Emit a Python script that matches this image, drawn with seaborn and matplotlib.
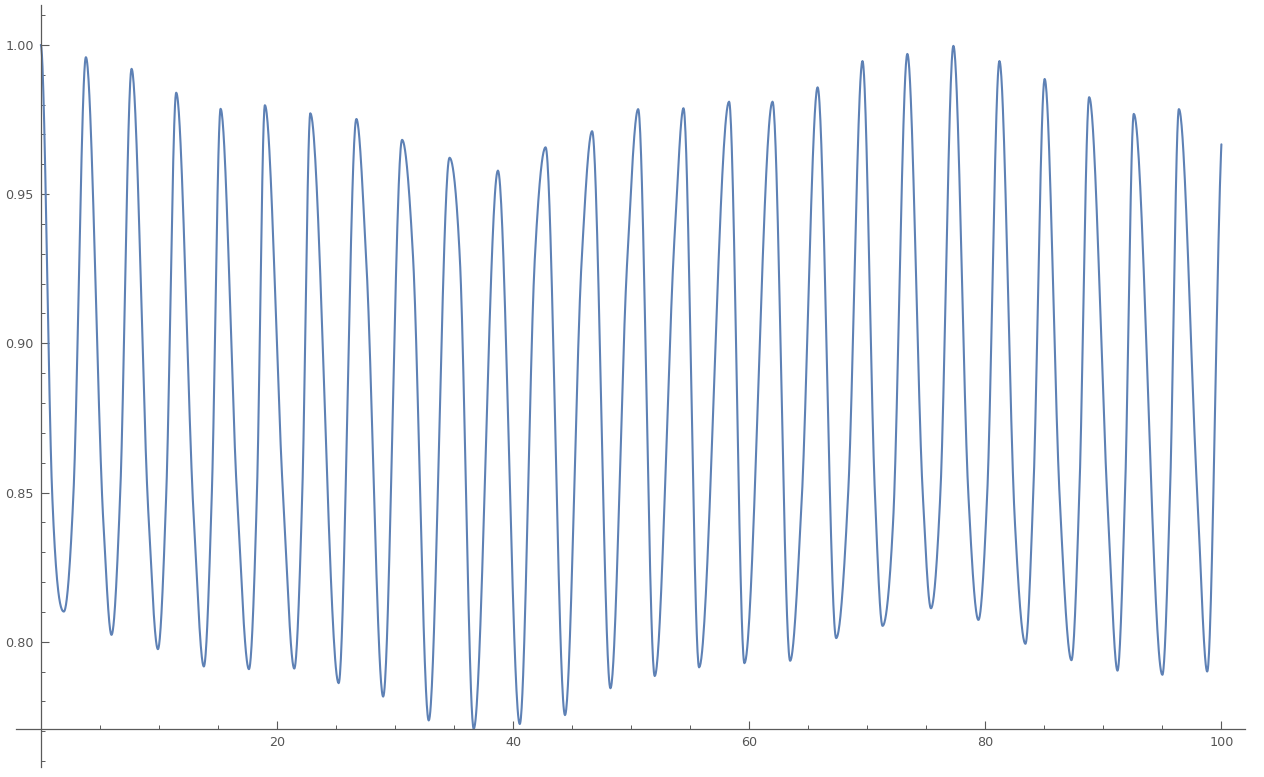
import numpy as np
import pandas as pd
import matplotlib
matplotlib.use("Agg")
import matplotlib.pyplot as plt
import seaborn as sns
from matplotlib.ticker import FixedLocator, FormatStrFormatter

# ---- values ----
start_x, start_y = 0.0, 1.000
end_x, end_y = 100.0, 0.9667

peak_x = [3.82, 7.69, 11.47, 15.23, 18.98, 22.83, 26.73, 30.60, 34.62, 38.72,
          42.76, 46.70, 50.60, 54.44, 58.30, 61.98, 65.80, 69.60, 73.40, 77.30,
          81.20, 85.03, 88.80, 92.58, 96.40]
peak_y = [0.9959, 0.9920, 0.9840, 0.9786, 0.9798, 0.9771, 0.9752, 0.9682, 0.9622, 0.9579,
          0.9657, 0.9711, 0.9785, 0.9788, 0.9810, 0.9810, 0.9858, 0.9946, 0.9970, 0.9997,
          0.9946, 0.9886, 0.9825, 0.9769, 0.9785]

trough_x = [1.95, 5.99, 9.92, 13.81, 17.63, 21.47, 25.23, 29.00, 32.86, 36.67,
            40.57, 44.40, 48.25, 52.00, 55.76, 59.60, 63.47, 67.37, 71.30, 75.40,
            79.42, 83.40, 87.30, 91.20, 95.00, 98.80]
trough_y = [0.8101, 0.8023, 0.7975, 0.7917, 0.7908, 0.7910, 0.7861, 0.7816, 0.7736, 0.7708,
            0.7724, 0.7754, 0.7844, 0.7885, 0.7914, 0.7928, 0.7936, 0.8012, 0.8053, 0.8112,
            0.8073, 0.7993, 0.7938, 0.7903, 0.7889, 0.7900]

shoulder_x = [5.30, 9.10, 12.95, 27.58, 31.53, 35.50, 41.84, 45.80, 49.65,
              53.70, 64.44, 68.40, 72.20, 82.50, 86.30, 90.40]
shoulder_y = [0.8400, 0.8440, 0.8420, 0.9268, 0.9290, 0.9280, 0.9280, 0.9268, 0.9260,
              0.9370, 0.8464, 0.8509, 0.8408, 0.8408, 0.8486, 0.8430]

# where the curve crosses the 0.85 level next to the shallower troughs
cross_x = [0.96, 2.77, 6.73, 10.63, 14.49, 16.61, 18.31, 20.51, 22.15,
           70.65, 74.70, 76.20, 78.56, 80.17, 84.07, 87.97, 91.84, 95.65, 97.95]
cross_y = [0.85] * len(cross_x)

x_major = [20, 40, 60, 80, 100]
y_major = [0.80, 0.85, 0.90, 0.95, 1.00]

# ---- smooth rendering of the read key points (monotone cubic) ----
kx = np.array([start_x] + peak_x + trough_x + shoulder_x + cross_x + [end_x])
ky = np.array([start_y] + peak_y + trough_y + shoulder_y + cross_y + [end_y])
order = np.argsort(kx)
kx, ky = kx[order], ky[order]

def smooth_curve(xk, yk, per_seg=40):
    h = np.diff(xk)
    d = np.diff(yk) / h
    n = len(xk)
    m = np.zeros(n)
    for k in range(1, n - 1):
        if d[k - 1] * d[k] > 0:
            s = (h[k] * d[k - 1] + h[k - 1] * d[k]) / (h[k - 1] + h[k])
            lim = 3 * min(abs(d[k - 1]), abs(d[k]))
            m[k] = np.sign(s) * min(abs(s), lim)
    m[0] = 0.0
    m[-1] = 0.6 * d[-1]
    xs, ys = [], []
    for k in range(n - 1):
        t = np.linspace(0, 1, per_seg, endpoint=(k == n - 2))
        h00 = 2 * t**3 - 3 * t**2 + 1
        h10 = t**3 - 2 * t**2 + t
        h01 = -2 * t**3 + 3 * t**2
        h11 = t**3 - t**2
        xs.append(xk[k] + t * h[k])
        ys.append(h00 * yk[k] + h10 * h[k] * m[k] + h01 * yk[k + 1] + h11 * h[k] * m[k + 1])
    return np.concatenate(xs), np.concatenate(ys)

cx, cy = smooth_curve(kx, ky)
df = pd.DataFrame({"x": cx, "y": cy})

# ---- figure ----
sns.set_style("white")
plt.rcParams["font.family"] = ["DejaVu Sans"]

W, H = 1264, 777
fig = plt.figure(figsize=(W / 100, H / 100), dpi=100)
ax = fig.add_axes([16 / W, 10 / H, (1245 - 16) / W, (767 - 5) / H])

sns.lineplot(data=df, x="x", y="y", ax=ax, color=(0.368417, 0.506779, 0.709798),
             linewidth=1.5, estimator=None, sort=False)

ax.set_xlim(-2.1, 102.0)
ax.set_ylim(0.758, 1.0134)
ax.set_xlabel("")
ax.set_ylabel("")

axis_col = "#5a5a5a"
for s in ["top", "right"]:
    ax.spines[s].set_visible(False)
ax.spines["left"].set_position(("data", 0))
ax.spines["bottom"].set_position(("data", 0.7708))
for s in ["left", "bottom"]:
    ax.spines[s].set_color(axis_col)
    ax.spines[s].set_linewidth(0.9)

x_minor = [v for v in range(5, 100, 5) if v not in x_major]
y_minor = [round(0.76 + 0.01 * i, 2) for i in range(26)]
y_minor = [v for v in y_minor if all(abs(v - M) > 1e-6 for M in y_major)]

ax.xaxis.set_major_locator(FixedLocator(x_major))
ax.xaxis.set_minor_locator(FixedLocator(x_minor))
ax.yaxis.set_major_locator(FixedLocator(y_major))
ax.yaxis.set_minor_locator(FixedLocator(y_minor))
ax.yaxis.set_major_formatter(FormatStrFormatter("%.2f"))
ax.xaxis.set_major_formatter(FormatStrFormatter("%d"))

ax.tick_params(which="major", direction="in", length=5.5, width=0.8, color=axis_col,
               labelcolor="#555555", labelsize=9.2, pad=5)
ax.tick_params(which="minor", direction="in", length=3, width=0.7, color=axis_col)
ax.tick_params(axis="x", which="both", bottom=True, top=False)
ax.tick_params(axis="y", which="both", left=True, right=False)
ax.grid(False)

fig.savefig("out.png", dpi=100)
